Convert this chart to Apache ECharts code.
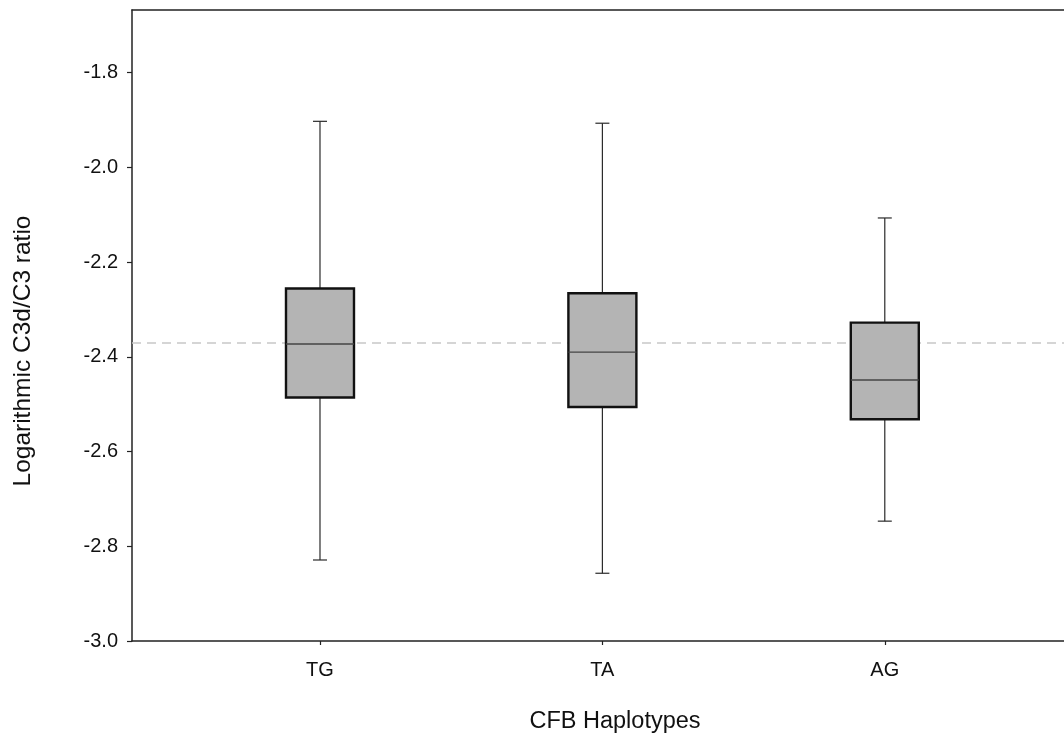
<!DOCTYPE html>
<html>
<head>
<meta charset="utf-8">
<script src="https://cdn.jsdelivr.net/npm/echarts@6/dist/echarts.min.js"></script>
<style>html,body{margin:0;padding:0;background:#fff;}#c{width:1064px;height:737px;}</style>
</head>
<body>
<div id="c"></div>
<script>
const haplotypes = ['TG', 'TA', 'AG'];
const positions = [1, 2, 3];
const whiskerLow = [-2.829, -2.857, -2.747];
const q1 = [-2.486, -2.506, -2.532];
const median = [-2.373, -2.390, -2.449];
const q3 = [-2.256, -2.266, -2.328];
const whiskerHigh = [-1.903, -1.907, -2.107];
const refLine = -2.373;
const yTicks = [-3.0, -2.8, -2.6, -2.4, -2.2, -2.0, -1.8];

const boxData = positions.map((p, i) => [p, whiskerLow[i], q1[i], median[i], q3[i], whiskerHigh[i]]);

const chart = echarts.init(document.getElementById('c'), null, {renderer: 'canvas'});
const FONT = '"Liberation Sans", Arial, sans-serif';

function renderBox(params, api) {
  const x = api.value(0);
  const pLow = api.coord([x, api.value(1)]);
  const pQ1 = api.coord([x, api.value(2)]);
  const pMed = api.coord([x, api.value(3)]);
  const pQ3 = api.coord([x, api.value(4)]);
  const pHigh = api.coord([x, api.value(5)]);
  const cx = pLow[0];
  const half = 34, cap = 7;
  const wStyle = {stroke: '#2a2a2a', lineWidth: 1.2};
  return {
    type: 'group',
    children: [
      {type: 'line', shape: {x1: cx, y1: pQ3[1], x2: cx, y2: pHigh[1]}, style: wStyle},
      {type: 'line', shape: {x1: cx - cap, y1: pHigh[1], x2: cx + cap, y2: pHigh[1]}, style: wStyle},
      {type: 'line', shape: {x1: cx, y1: pQ1[1], x2: cx, y2: pLow[1]}, style: wStyle},
      {type: 'line', shape: {x1: cx - cap, y1: pLow[1], x2: cx + cap, y2: pLow[1]}, style: wStyle},
      {type: 'rect', shape: {x: cx - half, y: pQ3[1], width: 2 * half, height: pQ1[1] - pQ3[1]},
        style: {fill: '#b4b4b4', stroke: '#111', lineWidth: 2.4}},
      {type: 'line', shape: {x1: cx - half, y1: pMed[1], x2: cx + half, y2: pMed[1]},
        style: {stroke: '#444', lineWidth: 1.3}}
    ]
  };
}

const option = {
  animation: false,
  backgroundColor: '#fff',
  grid: {left: 132, top: 10, right: 0, bottom: 96, containLabel: false},
  xAxis: [{
    type: 'value',
    min: 0.3343,
    max: 3.6346,
    splitLine: {show: false},
    axisLine: {show: true, lineStyle: {color: '#222', width: 1.5}},
    axisTick: {show: true, length: 4, customValues: positions, lineStyle: {color: '#222', width: 1.2}},
    axisLabel: {
      show: true, customValues: positions, margin: 19,
      formatter: v => haplotypes[positions.indexOf(Math.round(v))] || '',
      fontFamily: FONT, fontSize: 20, color: '#111'
    }
  }, {
    type: 'value', position: 'top', min: 0.3343, max: 3.6346,
    axisLine: {show: true, onZero: false, lineStyle: {color: '#222', width: 1.5}},
    axisTick: {show: false}, axisLabel: {show: false}, splitLine: {show: false}
  }],
  yAxis: {
    type: 'value',
    min: -3.0,
    max: -1.668,
    interval: 0.2,
    splitLine: {show: false},
    axisLine: {show: true, onZero: false, lineStyle: {color: '#222', width: 1.5}},
    axisTick: {show: true, length: 5, customValues: yTicks, lineStyle: {color: '#222', width: 1.2}},
    axisLabel: {
      show: true, customValues: yTicks, margin: 14,
      formatter: v => v.toFixed(1),
      fontFamily: FONT, fontSize: 20, color: '#111'
    }
  },
  graphic: [
    {type: 'text', x: 615, y: 722, style: {text: 'CFB Haplotypes', align: 'center', verticalAlign: 'middle', font: '23.5px ' + FONT, fill: '#111'}},
    {type: 'text', x: 23, y: 351, rotation: Math.PI / 2, style: {text: 'Logarithmic C3d/C3 ratio', align: 'center', verticalAlign: 'middle', font: '24.5px ' + FONT, fill: '#111'}}
  ],
  series: [
    {
      type: 'line', data: [], z: 1, silent: true,
      markLine: {
        silent: true, z: 1, symbol: ['none', 'none'], label: {show: false},
        lineStyle: {type: [9, 6], color: '#c8c8c8', width: 1.5},
        data: [{yAxis: refLine}]
      }
    },
    {
      type: 'custom', z: 10, renderItem: renderBox, data: boxData,
      encode: {x: 0, y: [1, 2, 3, 4, 5]}
    }
  ]
};
chart.setOption(option);
</script>
</body>
</html>
